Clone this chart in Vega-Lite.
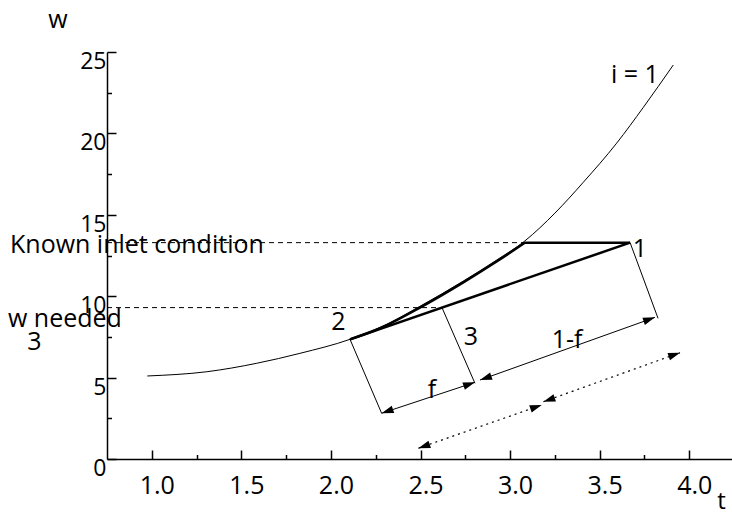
{
  "$schema": "https://vega.github.io/schema/vega-lite/v6.json",
  "width": 627,
  "height": 407,
  "autosize": {"type": "none"},
  "padding": {"left": 107, "top": 52, "right": 0, "bottom": 56},
  "background": "white",
  "view": {"stroke": null},
  "config": {"font": "Open Sans"},
  "datasets": {
    "curve": [
      {"x": 0.975, "y": 5.10}, {"x": 1.307, "y": 5.36}, {"x": 1.586, "y": 5.88},
      {"x": 1.827, "y": 6.49}, {"x": 2.1065, "y": 7.35},
      {"x": 2.274, "y": 8.08}, {"x": 2.497, "y": 9.38}, {"x": 2.739, "y": 10.93},
      {"x": 2.925, "y": 12.22}, {"x": 3.083, "y": 13.4}, {"x": 3.25, "y": 15.1},
      {"x": 3.409, "y": 17.0}, {"x": 3.595, "y": 19.4}, {"x": 3.744, "y": 21.6},
      {"x": 3.911, "y": 24.2}
    ],
    "thickCurve": [
      {"x": 2.1065, "y": 7.35}, {"x": 2.274, "y": 8.03}, {"x": 2.497, "y": 9.3},
      {"x": 2.739, "y": 10.85}, {"x": 2.925, "y": 12.13}, {"x": 3.083, "y": 13.29}
    ],
    "thickSeg": [
      {"x": 2.1065, "y": 7.35, "x2": 3.670, "y2": 13.29},
      {"x": 3.083, "y": 13.29, "x2": 3.670, "y2": 13.29}
    ],
    "thinSeg": [
      {"x": 3.670, "y": 13.29, "x2": 3.826, "y2": 8.64},
      {"x": 2.1065, "y": 7.35, "x2": 2.283, "y2": 2.81},
      {"x": 2.62, "y": 9.30, "x2": 2.804, "y2": 4.65},
      {"x": 2.283, "y": 2.81, "x2": 2.804, "y2": 4.71},
      {"x": 2.832, "y": 4.85, "x2": 3.809, "y2": 8.70}
    ],
    "dashedSeg": [
      {"x": 0.75, "y": 13.29, "x2": 3.083, "y2": 13.29},
      {"x": 0.75, "y": 9.30, "x2": 2.62, "y2": 9.30}
    ],
    "dottedSeg": [
      {"x": 2.488, "y": 0.66, "x2": 3.177, "y2": 3.32},
      {"x": 3.186, "y": 3.52, "x2": 3.949, "y2": 6.53}
    ],
    "heads": [
      {"x": 2.283, "y": 2.81, "angle": 251}, {"x": 2.804, "y": 4.71, "angle": 71},
      {"x": 2.832, "y": 4.85, "angle": 251}, {"x": 3.809, "y": 8.70, "angle": 71},
      {"x": 2.488, "y": 0.66, "angle": 251}, {"x": 3.177, "y": 3.32, "angle": 71},
      {"x": 3.186, "y": 3.52, "angle": 251}, {"x": 3.949, "y": 6.53, "angle": 71}
    ],
    "notesLeft": [
      {"x": 0.2085, "y": 12.64, "label": "Known inlet condition"},
      {"x": 0.1974, "y": 8.09, "label": "w needed"}
    ],
    "notesCenter": [
      {"x": 0.3453, "y": 6.70, "label": "3"},
      {"x": 3.725, "y": 12.41, "label": "1"},
      {"x": 2.041, "y": 7.92, "label": "2"},
      {"x": 2.781, "y": 7.00, "label": "3"},
      {"x": 3.318, "y": 6.82, "label": "1-f"},
      {"x": 2.564, "y": 3.75, "label": "f"},
      {"x": 3.697, "y": 23.08, "label": "i = 1"}
    ]
  },
  "resolve": {"axis": {"x": "independent", "y": "independent"}},
  "layer": [
    {
      "data": {"name": "curve"},
      "mark": {"type": "line", "color": "black", "strokeWidth": 1, "interpolate": "monotone"},
      "encoding": {
        "x": {"field": "x", "type": "quantitative", "scale": {"domain": [0.75, 4.25], "nice": false, "zero": false},
          "axis": {"orient": "bottom", "values": [1, 1.5, 2, 2.5, 3, 3.5, 4], "format": ".1f", "grid": false,
            "tickSize": -9, "tickWidth": 1.5, "tickColor": "black", "domainColor": "black", "domainWidth": 1.5,
            "labelFont": "Open Sans", "labelFontSize": 25, "labelColor": "black", "labelPadding": 23, "labelOffset": 5,
            "labelFlush": false, "labelOverlap": false,
            "title": "t", "titleFont": "Open Sans", "titleFontSize": 24, "titleFontWeight": "normal", "titleColor": "black",
            "titleX": 614, "titleY": 49, "titleAlign": "center", "titleBaseline": "alphabetic", "titleAngle": 0}},
        "y": {"field": "y", "type": "quantitative", "scale": {"domain": [0, 25], "nice": false, "zero": false},
          "axis": {"orient": "left", "values": [0, 5, 10, 15, 20, 25], "grid": false,
            "tickSize": -9, "tickWidth": 1.5, "tickColor": "black", "domainColor": "black", "domainWidth": 1.5,
            "labelFont": "Open Sans", "labelFontSize": 23, "labelColor": "black", "labelPadding": 10,
            "labelBaseline": "top", "labelAlign": "right", "labelOffset": -1.5, "labelFlush": false, "labelOverlap": false,
            "title": "w", "titleFont": "Open Sans", "titleFontSize": 25, "titleFontWeight": "normal", "titleColor": "black",
            "titleX": -49.5, "titleY": -25, "titleAlign": "center", "titleBaseline": "alphabetic", "titleAngle": 0}},
        "order": {"field": "x", "type": "quantitative"}
      }
    },
    {
      "data": {"name": "thickCurve"},
      "mark": {"type": "line", "color": "black", "strokeWidth": 2.5, "interpolate": "monotone"},
      "encoding": {
        "x": {"field": "x", "type": "quantitative", "scale": {"domain": [0.75, 4.25], "nice": false, "zero": false},
          "axis": {"orient": "bottom", "values": [1.25, 1.75, 2.25, 2.75, 3.25, 3.75], "grid": false,
            "tickSize": -4.5, "tickWidth": 1.5, "tickColor": "black", "labels": false, "domain": false, "title": null}},
        "y": {"field": "y", "type": "quantitative", "scale": {"domain": [0, 25], "nice": false, "zero": false},
          "axis": {"orient": "left", "values": [2.5, 7.5, 12.5, 17.5, 22.5], "grid": false,
            "tickSize": -4.5, "tickWidth": 1.5, "tickColor": "black", "labels": false, "domain": false, "title": null}},
        "order": {"field": "x", "type": "quantitative"}
      }
    },
    {
      "data": {"name": "dashedSeg"},
      "mark": {"type": "rule", "color": "black", "strokeWidth": 1, "strokeDash": [5, 4]},
      "encoding": {
        "x": {"field": "x", "type": "quantitative", "axis": null},
        "y": {"field": "y", "type": "quantitative", "axis": null},
        "x2": {"field": "x2"},
        "y2": {"field": "y2"}
      }
    },
    {
      "data": {"name": "thinSeg"},
      "mark": {"type": "rule", "color": "black", "strokeWidth": 1},
      "encoding": {
        "x": {"field": "x", "type": "quantitative", "axis": null},
        "y": {"field": "y", "type": "quantitative", "axis": null},
        "x2": {"field": "x2"},
        "y2": {"field": "y2"}
      }
    },
    {
      "data": {"name": "dottedSeg"},
      "mark": {"type": "rule", "color": "black", "strokeWidth": 1.2, "strokeDash": [2, 4]},
      "encoding": {
        "x": {"field": "x", "type": "quantitative", "axis": null},
        "y": {"field": "y", "type": "quantitative", "axis": null},
        "x2": {"field": "x2"},
        "y2": {"field": "y2"}
      }
    },
    {
      "data": {"name": "thickSeg"},
      "mark": {"type": "rule", "color": "black", "strokeWidth": 2.5},
      "encoding": {
        "x": {"field": "x", "type": "quantitative", "axis": null},
        "y": {"field": "y", "type": "quantitative", "axis": null},
        "x2": {"field": "x2"},
        "y2": {"field": "y2"}
      }
    },
    {
      "data": {"name": "heads"},
      "mark": {"type": "point", "shape": "M0,0L-0.32,1L0.32,1Z", "filled": true, "color": "black", "opacity": 1, "size": 576, "strokeWidth": 0},
      "encoding": {
        "x": {"field": "x", "type": "quantitative", "axis": null},
        "y": {"field": "y", "type": "quantitative", "axis": null},
        "angle": {"field": "angle", "type": "quantitative", "scale": null}
      }
    },
    {
      "data": {"name": "notesLeft"},
      "mark": {"type": "text", "font": "Open Sans", "fontSize": 25, "color": "black", "align": "left", "baseline": "alphabetic"},
      "encoding": {
        "x": {"field": "x", "type": "quantitative", "axis": null},
        "y": {"field": "y", "type": "quantitative", "axis": null},
        "text": {"field": "label"}
      }
    },
    {
      "data": {"name": "notesCenter"},
      "mark": {"type": "text", "font": "Open Sans", "fontSize": 25, "color": "black", "align": "center", "baseline": "alphabetic"},
      "encoding": {
        "x": {"field": "x", "type": "quantitative", "axis": null},
        "y": {"field": "y", "type": "quantitative", "axis": null},
        "text": {"field": "label"}
      }
    }
  ]
}
